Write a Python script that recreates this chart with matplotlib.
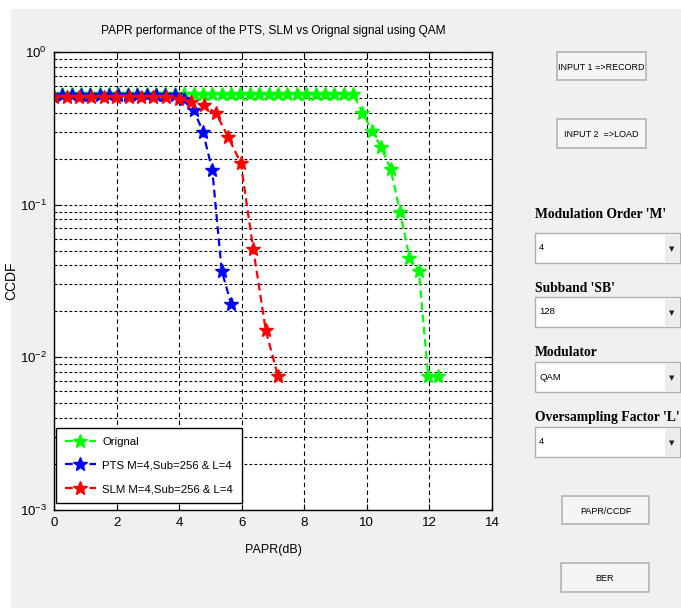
import numpy as np
import matplotlib
matplotlib.use('Agg')
import matplotlib.pyplot as plt
from matplotlib.patches import Rectangle
from matplotlib.ticker import LogLocator, NullFormatter

# CCDF curves read from the simulation run
orig_papr = [0.26, 0.56, 0.86, 1.16, 1.46, 1.76, 2.06, 2.36, 2.66, 2.96, 3.26,
             3.56, 3.86, 4.16, 4.46, 4.76, 5.06, 5.36, 5.66, 5.96, 6.26, 6.56,
             6.86, 7.16, 7.46, 7.76, 8.06, 8.36, 8.66, 8.96, 9.26, 9.56, 9.86,
             10.16, 10.46, 10.76, 11.06, 11.36, 11.66, 11.96, 12.26]
orig_ccdf = [0.53, 0.53, 0.53, 0.53, 0.53, 0.53, 0.53, 0.53, 0.53, 0.53, 0.53,
             0.53, 0.53, 0.53, 0.53, 0.53, 0.53, 0.53, 0.53, 0.53, 0.53, 0.53,
             0.53, 0.53, 0.53, 0.53, 0.53, 0.53, 0.53, 0.53, 0.53, 0.53, 0.40,
             0.306, 0.237, 0.171, 0.090, 0.045, 0.037, 0.0075, 0.0075]

pts_papr = [0.26, 0.56, 0.86, 1.16, 1.46, 1.76, 2.06, 2.36, 2.66, 2.96, 3.26,
            3.56, 3.86, 4.16, 4.46, 4.76, 5.06, 5.36, 5.66]
pts_ccdf = [0.52, 0.52, 0.52, 0.52, 0.52, 0.52, 0.52, 0.52, 0.52, 0.52, 0.52,
            0.52, 0.52, 0.49, 0.42, 0.30, 0.168, 0.037, 0.0224]

slm_papr = [0.0, 0.4, 0.8, 1.19, 1.59, 1.99, 2.39, 2.79, 3.18, 3.58, 3.98,
            4.38, 4.78, 5.17, 5.57, 5.97, 6.37, 6.77, 7.16]
slm_ccdf = [0.51, 0.51, 0.51, 0.51, 0.51, 0.51, 0.51, 0.51, 0.51, 0.51, 0.49,
            0.47, 0.45, 0.40, 0.277, 0.187, 0.051, 0.015, 0.0075]

labels = ['Orignal', 'PTS M=4,Sub=256 & L=4', 'SLM M=4,Sub=256 & L=4']
colors = ['#00ff00', '#0000ff', '#ff0000']
x_ticks = [0, 2, 4, 6, 8, 10, 12, 14]

# GUI controls on the right side
buttons = [('INPUT 1 =>RECORD', 557, 52, 89, 28),
           ('INPUT 2  =>LOAD', 557, 119, 89, 29),
           ('PAPR/CCDF', 562, 496, 87, 28),
           ('BER', 561, 563, 88, 29)]
menus = [("Modulation Order 'M'", '4', 215, 233),
         ("Subband 'SB'", '128', 288, 297),
         ('Modulator', 'QAM', 353, 362),
         ("Oversampling Factor 'L'", '4', 417, 427)]

plt.rcParams['font.family'] = ['Liberation Sans', 'DejaVu Sans']
plt.rcParams['mathtext.fontset'] = 'custom'
plt.rcParams['mathtext.rm'] = 'Liberation Sans'
plt.rcParams['mathtext.it'] = 'Liberation Sans'

W, H = 681, 608
fig = plt.figure(figsize=(W / 100, H / 100), dpi=100, facecolor='#f0f0f0')

# pixel-space layer for the window frame and the controls
ui = fig.add_axes([0, 0, 1, 1], zorder=0)
ui.set_xlim(0, W)
ui.set_ylim(H, 0)
ui.axis('off')
ui.add_patch(Rectangle((0, 0), W, 9, facecolor='white', edgecolor='none'))
ui.add_patch(Rectangle((0, 0), 11, H, facecolor='white', edgecolor='none'))

for txt, x, y, w, h in buttons:
    ui.add_patch(Rectangle((x, y), w, h, facecolor='#f5f5f5',
                           edgecolor='#b4b4b4', linewidth=1.2))
    ui.text(x + w / 2, y + h / 2 + 1, txt, ha='center', va='center',
            fontsize=6.5, color='black')

for title, val, ty, by in menus:
    ui.text(535, ty, title, ha='left', va='center', fontsize=9.8,
            fontweight='bold', family=['Liberation Serif'])
    ui.add_patch(Rectangle((535, by), 145, 30, facecolor='white',
                           edgecolor='#b0b0b0', linewidth=1))
    ui.add_patch(Rectangle((665, by + 1), 14, 28, facecolor='#ececec',
                           edgecolor='none'))
    ui.text(539, by + 15, val, ha='left', va='center', fontsize=6.8)
    ui.text(672, by + 16, '\u25bc', ha='center', va='center', fontsize=5,
            family=['DejaVu Sans'], color='#202020')

ax = fig.add_axes([54 / W, 98 / H, 438 / W, 458 / H], zorder=1)
ax.set_facecolor('white')

series = [(orig_papr, orig_ccdf), (pts_papr, pts_ccdf), (slm_papr, slm_ccdf)]
for (px, py), c, lab in zip(series, colors, labels):
    ax.semilogy(px, py, linestyle=(0, (3.5, 2)), color=c, linewidth=1.6,
                marker='*', markersize=10.5, markeredgewidth=1.0, label=lab)

ax.set_xlim(0, 14)
ax.set_ylim(1e-3, 1)
ax.set_xticks(x_ticks)
ax.yaxis.set_major_locator(LogLocator(base=10, numticks=10))
ax.yaxis.set_minor_locator(LogLocator(base=10, subs=np.arange(2, 10), numticks=20))
ax.yaxis.set_minor_formatter(NullFormatter())

ax.grid(True, which='major', axis='x', color='black', linestyle=(0, (4, 3)),
        linewidth=0.8)
ax.grid(True, which='both', axis='y', color='black', linestyle=(0, (2.5, 2)),
        linewidth=0.8)
ax.set_axisbelow(True)

ax.tick_params(which='both', direction='in', top=True, right=True,
               labelsize=9.5, colors='black', pad=5)
ax.tick_params(which='major', length=4)
ax.tick_params(which='minor', length=2)
for s in ax.spines.values():
    s.set_linewidth(1.0)
    s.set_color('black')

ax.set_title('PAPR performance of the PTS, SLM vs Orignal signal using QAM',
             fontsize=8.6, pad=13)
ax.set_xlabel('PAPR(dB)', fontsize=9, labelpad=11)
ax.set_ylabel('CCDF', fontsize=10)
ax.yaxis.set_label_coords(-0.082, 0.5)

leg = ax.legend(loc='lower left', bbox_to_anchor=(0.004, 0.015),
                borderaxespad=0, fontsize=8.2, fancybox=False, framealpha=1,
                edgecolor='black', handlelength=2.7, labelspacing=1.2,
                borderpad=0.8, handletextpad=0.6)
leg.get_frame().set_linewidth(1.0)

fig.savefig('out.png', dpi=100, facecolor=fig.get_facecolor())
